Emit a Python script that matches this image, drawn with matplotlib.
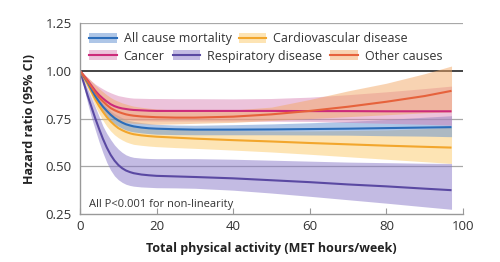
import matplotlib
matplotlib.use("Agg")
import matplotlib.pyplot as plt
from matplotlib.patches import Patch
from matplotlib.lines import Line2D

plt.rcParams['font.family'] = ['Open Sans', 'DejaVu Sans']

# MET hours/week
x = [0, 1, 2, 3, 4, 5, 6, 7, 8, 9, 10, 11, 12, 13, 14, 16, 18, 20,
     25, 30, 40, 50, 60, 70, 80, 90, 97]

all_hr = [1.0, 0.97, 0.94, 0.903, 0.867, 0.838, 0.812, 0.79, 0.77, 0.753, 0.74, 0.729, 0.72, 0.714, 0.709, 0.703, 0.699, 0.697,
          0.694, 0.692, 0.692, 0.693, 0.695, 0.697, 0.70, 0.703, 0.705]
all_lo = [1.0, 0.965, 0.93, 0.89, 0.85, 0.815, 0.785, 0.76, 0.74, 0.723, 0.71, 0.699, 0.69, 0.684, 0.68, 0.675, 0.671, 0.668,
          0.666, 0.665, 0.665, 0.665, 0.664, 0.663, 0.66, 0.658, 0.655]
all_hi = [1.0, 0.975, 0.95, 0.917, 0.885, 0.857, 0.83, 0.809, 0.79, 0.776, 0.765, 0.754, 0.745, 0.739, 0.735, 0.729, 0.724, 0.72,
          0.716, 0.715, 0.718, 0.722, 0.728, 0.735, 0.745, 0.757, 0.765]

cvd_hr = [1.0, 0.965, 0.93, 0.89, 0.85, 0.815, 0.785, 0.758, 0.735, 0.716, 0.70, 0.689, 0.68, 0.673, 0.668, 0.662, 0.658, 0.655,
          0.65, 0.645, 0.637, 0.63, 0.622, 0.615, 0.608, 0.602, 0.598]
cvd_lo = [1.0, 0.955, 0.91, 0.862, 0.815, 0.775, 0.74, 0.71, 0.685, 0.665, 0.65, 0.638, 0.628, 0.621, 0.615, 0.61, 0.606, 0.603,
          0.598, 0.594, 0.585, 0.575, 0.563, 0.55, 0.537, 0.524, 0.515]
cvd_hi = [1.0, 0.973, 0.945, 0.912, 0.88, 0.852, 0.825, 0.801, 0.78, 0.763, 0.748, 0.737, 0.728, 0.721, 0.715, 0.709, 0.704, 0.70,
          0.695, 0.69, 0.687, 0.685, 0.685, 0.687, 0.69, 0.697, 0.705]

can_hr = [1.0, 0.975, 0.95, 0.922, 0.895, 0.873, 0.855, 0.839, 0.825, 0.815, 0.808, 0.803, 0.80, 0.797, 0.795, 0.793, 0.791, 0.79,
          0.79, 0.79, 0.79, 0.79, 0.789, 0.789, 0.788, 0.788, 0.788]
can_lo = [1.0, 0.968, 0.935, 0.90, 0.865, 0.835, 0.81, 0.79, 0.775, 0.763, 0.755, 0.749, 0.745, 0.742, 0.74, 0.739, 0.738, 0.737,
          0.737, 0.737, 0.737, 0.736, 0.735, 0.73, 0.725, 0.72, 0.715]
can_hi = [1.0, 0.983, 0.965, 0.947, 0.93, 0.917, 0.905, 0.894, 0.885, 0.877, 0.87, 0.866, 0.862, 0.859, 0.857, 0.856, 0.855, 0.855,
          0.854, 0.854, 0.853, 0.855, 0.862, 0.875, 0.89, 0.907, 0.92]

resp_hr = [1.0, 0.935, 0.87, 0.81, 0.75, 0.695, 0.643, 0.598, 0.56, 0.53, 0.507, 0.49, 0.478, 0.47, 0.464, 0.457, 0.453, 0.45,
           0.447, 0.444, 0.437, 0.427, 0.417, 0.405, 0.395, 0.383, 0.375]
resp_lo = [1.0, 0.915, 0.83, 0.755, 0.69, 0.627, 0.57, 0.52, 0.48, 0.45, 0.43, 0.416, 0.406, 0.40, 0.396, 0.392, 0.39, 0.388,
           0.387, 0.385, 0.375, 0.36, 0.343, 0.325, 0.307, 0.288, 0.275]
resp_hi = [1.0, 0.953, 0.905, 0.858, 0.81, 0.76, 0.71, 0.672, 0.64, 0.612, 0.59, 0.573, 0.56, 0.552, 0.547, 0.543, 0.541, 0.54,
           0.54, 0.54, 0.537, 0.532, 0.527, 0.522, 0.519, 0.516, 0.515]

oth_hr = [1.0, 0.973, 0.945, 0.915, 0.885, 0.86, 0.84, 0.821, 0.805, 0.794, 0.785, 0.778, 0.772, 0.768, 0.765, 0.761, 0.759, 0.757,
          0.755, 0.755, 0.76, 0.772, 0.79, 0.812, 0.838, 0.868, 0.895]
oth_lo = [1.0, 0.963, 0.925, 0.887, 0.85, 0.82, 0.795, 0.776, 0.76, 0.749, 0.74, 0.734, 0.73, 0.727, 0.725, 0.723, 0.721, 0.72,
          0.722, 0.725, 0.73, 0.74, 0.75, 0.76, 0.77, 0.78, 0.785]
oth_hi = [1.0, 0.983, 0.965, 0.945, 0.925, 0.907, 0.89, 0.874, 0.86, 0.849, 0.84, 0.832, 0.826, 0.82, 0.815, 0.809, 0.804, 0.80,
          0.795, 0.792, 0.795, 0.81, 0.85, 0.895, 0.935, 0.985, 1.025]

labels = ["All cause mortality", "Cardiovascular disease", "Cancer",
          "Respiratory disease", "Other causes"]

series = {
    "Respiratory disease": (resp_hr, resp_lo, resp_hi, '#5a49a2', '#8878c8', 0.5),
    "Cardiovascular disease": (cvd_hr, cvd_lo, cvd_hi, '#f2a62c', '#fbc45a', 0.45),
    "All cause mortality": (all_hr, all_lo, all_hi, '#2b6dba', '#5f8fd0', 0.5),
    "Cancer": (can_hr, can_lo, can_hi, '#cc2a7a', '#d77ab0', 0.45),
    "Other causes": (oth_hr, oth_lo, oth_hi, '#e6623c', '#f3a866', 0.5),
}
draw_order = ["Respiratory disease", "Cardiovascular disease", "All cause mortality",
              "Cancer", "Other causes"]

fig = plt.figure(figsize=(5.0, 2.62), dpi=100)
ax = fig.add_axes([0.16, 0.183, 0.766, 0.729])

for k in draw_order:
    hr, lo, hi, lc, bc, a = series[k]
    ax.fill_between(x, lo, hi, color=bc, alpha=a, lw=0)
for k in draw_order:
    hr, lo, hi, lc, bc, a = series[k]
    ax.plot(x, hr, color=lc, lw=1.5, solid_capstyle='butt')

ax.set_xlim(0, 100)
ax.set_ylim(0.25, 1.25)
ax.set_xticks([0, 20, 40, 60, 80, 100])
ax.set_yticks([0.25, 0.5, 0.75, 1.0, 1.25])
ax.set_yticklabels(["0.25", "0.50", "0.75", "1.00", "1.25"])
for yv in [0.5, 0.75, 1.25]:
    ax.axhline(yv, color='#a8a8a8', lw=0.9, zorder=0)
ax.axhline(1.0, color='#111111', lw=1.1, zorder=0.5)

for s in ['top', 'right']:
    ax.spines[s].set_visible(False)
for s in ['left', 'bottom']:
    ax.spines[s].set_color('#999999')
    ax.spines[s].set_linewidth(1.0)
ax.tick_params(axis='x', direction='in', length=4, color='#999999',
               labelsize=9.5, labelcolor='#333333', pad=4)
ax.tick_params(axis='y', length=0, labelsize=9.5, labelcolor='#333333', pad=6)

ax.set_xlabel("Total physical activity (MET hours/week)", fontsize=9,
              fontweight='bold', color='#222222', labelpad=7)
ax.set_ylabel("Hazard ratio (95% CI)", fontsize=9, fontweight='bold',
              color='#222222', labelpad=7)

ax.text(2.3, 0.30, "All P<0.001 for non-linearity", fontsize=8,
        color='#333333', va='center', ha='left')

def handle(lab):
    hr, lo, hi, lc, bc, a = series[lab]
    return (Patch(facecolor=bc, alpha=a, lw=0), Line2D([], [], color=lc, lw=1.5))

row1 = labels[:2]
row2 = labels[2:]
leg_kw = dict(loc='center left', frameon=False, fontsize=9,
              handlelength=2.2, handleheight=0.85, handletextpad=0.55,
              borderpad=0, borderaxespad=0, labelcolor='#333333')
leg1 = ax.legend([handle(l) for l in row1], row1, ncol=2,
                 bbox_to_anchor=(0.024, 0.918), columnspacing=0.6, **leg_kw)
ax.add_artist(leg1)
ax.legend([handle(l) for l in row2], row2, ncol=3,
          bbox_to_anchor=(0.024, 0.826), columnspacing=0.65, **leg_kw)

fig.savefig("out.png", dpi=100)
